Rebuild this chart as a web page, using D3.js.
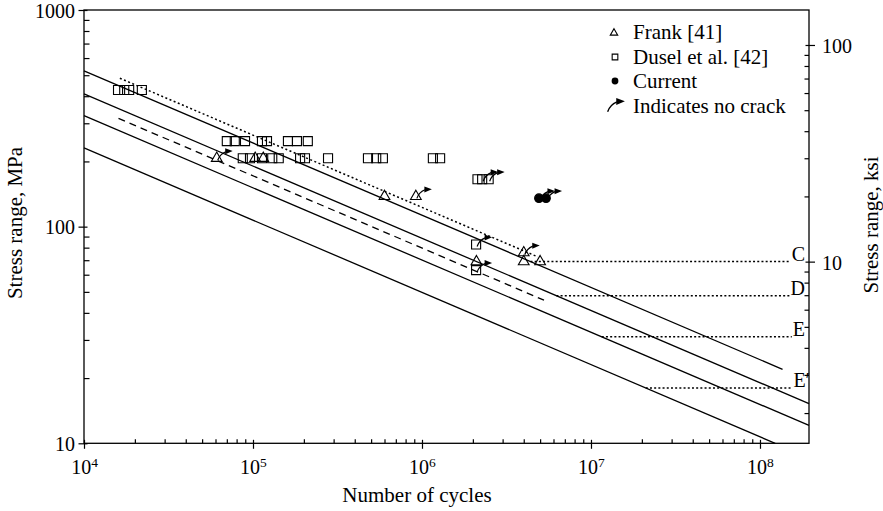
<!DOCTYPE html>
<html><head><meta charset="utf-8">
<script src="https://cdn.jsdelivr.net/npm/d3@7"></script>
<style>
body{margin:0;background:#fff}
svg text{font-family:"Liberation Serif","Times New Roman",serif;fill:#000}
</style>
</head><body>
<svg id="c" width="883" height="511"></svg>
<script>
// ---------------- data ----------------
const frankCycles   = [6.1e4, 1.03e5, 1.15e5, 6.0e5, 9.2e5, 2.1e6, 4.0e6, 4.0e6, 5.0e6];
const frankStress   = [206.8, 206.8, 206.8, 137.9, 137.9, 68.95, 75.8, 68.95, 68.95]; // MPa
const frankNoCrack  = [1, 0, 0, 0, 1, 0, 1, 0, 0];

const duselCycles = [
  1.59e4, 1.73e4, 1.85e4, 2.2e4,
  7.0e4, 7.8e4, 8.97e4, 1.13e5, 1.21e5, 1.61e5, 1.82e5, 2.11e5,
  8.7e4, 9.6e4, 1.13e5, 1.3e5, 1.42e5, 1.9e5, 2.03e5, 2.78e5, 4.79e5, 5.36e5, 5.87e5, 1.16e6, 1.28e6,
  2.13e6, 2.27e6, 2.48e6,
  2.09e6, 2.09e6
];
const duselStress = [
  427.5, 427.5, 427.5, 427.5,
  248.2, 248.2, 248.2, 248.2, 248.2, 248.2, 248.2, 248.2,
  206.8, 206.8, 206.8, 206.8, 206.8, 206.8, 206.8, 206.8, 206.8, 206.8, 206.8, 206.8, 206.8,
  165.5, 165.5, 165.5,
  82.7, 63.0
];
const duselNoCrack = [
  0,0,0,0,
  0,0,0,0,0,0,0,0,
  0,0,0,0,0,0,0,0,0,0,0,0,0,
  0,1,1,
  1,1
];

const currentCycles  = [4.92e6, 5.42e6];
const currentStress  = [135.3, 135.3];
const currentNoCrack = [1, 1];

// AASHTO-type S-N categories: N = A / S^3 (S in MPa)
const categories        = ["C", "D", "E", "E\u2032"];
const categoryConstant  = [1.44e12, 6.9e11, 3.45e11, 1.23e11];
const categoryThreshold = [69, 48, 31, 18];       // MPa (10, 7, 4.5, 2.6 ksi)
const categoryEndCycles = [1.36e8, null, null, null];

const upperConstant = 1.85e12, upperCycles = [1.63e4, 4.85e6];   // dotted line
const meanConstant  = 5.05e11, meanCycles  = [1.6e4, 5.27e6];    // dashed line

const xMajorTicks = [1e4, 1e5, 1e6, 1e7, 1e8];
const yMajorTicks = [10, 100, 1000];
const ksiMajorTicks = [10, 100];
const legendLabels = ["Frank [41]", "Dusel et al. [42]", "Current", "Indicates no crack"];
const MPA_PER_KSI = 6.895;

// ---------------- chart ----------------
const svg = d3.select("#c");
const X0 = 84, X1 = 809, Y0 = 443.3, Y1 = 10;
const xMax = 1.95e8;
const x  = d3.scaleLog().domain([1e4, xMax]).range([X0, X1]);
const y  = d3.scaleLog().domain([10, 1000]).range([Y0, Y1]);
const yk = d3.scaleLog().domain([10 / MPA_PER_KSI, 1000 / MPA_PER_KSI]).range([Y0, Y1]);
const FONT = '"Liberation Serif","Times New Roman",serif';

function minorTicks(scale) {
  const [a, b] = scale.domain(); const out = [];
  for (let e = Math.floor(Math.log10(a)); e <= Math.ceil(Math.log10(b)); e++)
    for (let m = 2; m <= 9; m++) { const v = m * Math.pow(10, e); if (v > a && v < b) out.push(v); }
  return out;
}
function styleAxis(g) {
  g.select(".domain").remove();
  g.attr("font-family", FONT).attr("font-size", 20);
  g.selectAll("line").attr("stroke", "#000").attr("stroke-width", 1.2);
}

// minor ticks (inward)
svg.append("g").attr("transform", `translate(0,${Y0})`)
  .call(d3.axisBottom(x).tickValues(minorTicks(x)).tickSize(-4).tickFormat("")).call(styleAxis);
svg.append("g").attr("transform", `translate(${X0},0)`)
  .call(d3.axisLeft(y).tickValues(minorTicks(y)).tickSize(-5.5).tickFormat("")).call(styleAxis);
svg.append("g").attr("transform", `translate(${X1},0)`)
  .call(d3.axisRight(yk).tickValues(minorTicks(yk)).tickSize(-4.5).tickFormat("")).call(styleAxis);
// major ticks inward part
svg.append("g").attr("transform", `translate(0,${Y0})`)
  .call(d3.axisBottom(x).tickValues(xMajorTicks).tickSize(-3.5).tickFormat("")).call(styleAxis);
svg.append("g").attr("transform", `translate(${X0},0)`)
  .call(d3.axisLeft(y).tickValues(yMajorTicks).tickSize(-3.5).tickFormat("")).call(styleAxis);
svg.append("g").attr("transform", `translate(${X1},0)`)
  .call(d3.axisRight(yk).tickValues(ksiMajorTicks).tickSize(-3.5).tickFormat("")).call(styleAxis);

// major ticks outward with labels
const gx = svg.append("g").attr("transform", `translate(0,${Y0})`)
  .call(d3.axisBottom(x).tickValues(xMajorTicks).tickSize(5.5)).call(styleAxis);
gx.selectAll(".tick text").each(function (d) {
  const t = d3.select(this).text(null).attr("y", 30.7).attr("dy", 0).attr("fill", "#000");
  t.append("tspan").text("10");
  t.append("tspan").attr("dy", -7).attr("font-size", 13.5).text(Math.round(Math.log10(d)));
});
const gy = svg.append("g").attr("transform", `translate(${X0},0)`)
  .call(d3.axisLeft(y).tickValues(yMajorTicks).tickSize(5.5).tickFormat(d3.format("d"))).call(styleAxis);
gy.selectAll(".tick text").attr("x", -9).attr("dy", "0.35em").attr("fill", "#000");
const gk = svg.append("g").attr("transform", `translate(${X1},0)`)
  .call(d3.axisRight(yk).tickValues(ksiMajorTicks).tickSize(6).tickFormat(d3.format("d"))).call(styleAxis);
gk.selectAll(".tick text").attr("x", 13).attr("dy", "0.38em").attr("fill", "#000");

// frame
svg.append("rect").attr("x", X0).attr("y", Y1).attr("width", X1 - X0).attr("height", Y0 - Y1)
  .attr("fill", "none").attr("stroke", "#000").attr("stroke-width", 1.3);

// titles
svg.append("text").attr("x", 417).attr("y", 502).attr("text-anchor", "middle")
  .attr("font-size", 21).text("Number of cycles");
svg.append("text").attr("transform", "translate(22,223) rotate(-90)").attr("text-anchor", "middle")
  .attr("font-size", 21).text("Stress range, MPa");
svg.append("text").attr("transform", "translate(878,225) rotate(-90)").attr("text-anchor", "middle")
  .attr("font-size", 21).text("Stress range, ksi");

// S-N lines
const line = d3.line().x(d => x(d[0])).y(d => y(d[1]));
const sAt = (A, N) => Math.cbrt(A / N);
const plot = svg.append("g");
categories.forEach((c, i) => {
  const A = categoryConstant[i];
  const endN = Math.min(categoryEndCycles[i] || xMax, A / 1000);
  plot.append("path").attr("d", line([[1e4, sAt(A, 1e4)], [endN, sAt(A, endN)]]))
    .attr("fill", "none").attr("stroke", "#000").attr("stroke-width", 1.3);
  // label + threshold
  const ty = y(categoryThreshold[i]);
  const lab = svg.append("text").attr("x", i === 3 ? 810 : 805).attr("y", ty - 1)
    .attr("text-anchor", "end").attr("font-size", 20).text(c);
  const lx = (i === 3 ? 810 : 805) - lab.node().getComputedTextLength() - 1;
  const startN = A / Math.pow(categoryThreshold[i], 3);
  plot.append("line").attr("x1", x(startN)).attr("x2", lx).attr("y1", ty).attr("y2", ty)
    .attr("stroke", "#000").attr("stroke-width", 1.5).attr("stroke-dasharray", "2,2.2");
});
plot.append("path").attr("d", line(upperCycles.map(n => [n, sAt(upperConstant, n)])))
  .attr("fill", "none").attr("stroke", "#000").attr("stroke-width", 1.5).attr("stroke-dasharray", "2,2.5");
plot.append("path").attr("d", line(meanCycles.map(n => [n, sAt(meanConstant, n)])))
  .attr("fill", "none").attr("stroke", "#000").attr("stroke-width", 1.3).attr("stroke-dasharray", "7,5");

// arrows
function arrow(g, cx, cy, s) {
  const a = g.append("g").attr("transform", `translate(${cx},${cy}) scale(${s || 1})`);
  a.append("path").attr("d", "M1,2 Q3,-4 9,-6.6").attr("fill", "none").attr("stroke", "#000").attr("stroke-width", 1.2);
  a.append("path").attr("d", "M8.5,-10 L16,-7.2 L8.5,-4 Z").attr("fill", "#000");
}
const tri = d3.symbol().type(d3.symbolTriangle).size(50);
const sq = d3.symbol().type(d3.symbolSquare).size(82);
const circ = d3.symbol().type(d3.symbolCircle).size(58);
const pts = svg.append("g");
function drawSeries(Ns, Ss, flags, sym, filled) {
  Ns.forEach((n, i) => {
    const cx = x(n), cy = y(Ss[i]);
    pts.append("path").attr("d", sym()).attr("transform", `translate(${cx},${cy})`)
      .attr("fill", filled ? "#000" : "none").attr("stroke", "#000").attr("stroke-width", 1.1);
  });
  Ns.forEach((n, i) => { if (flags[i]) arrow(pts, x(n), y(Ss[i])); });
}
drawSeries(duselCycles, duselStress, duselNoCrack, sq, false);
drawSeries(frankCycles, frankStress, frankNoCrack, tri, false);
drawSeries(currentCycles, currentStress, currentNoCrack, circ, true);

// legend
const leg = svg.append("g");
const legY = [39, 63.5, 88, 112.5];
leg.append("path").attr("d", d3.symbol().type(d3.symbolTriangle).size(24)()).attr("transform", `translate(614,${legY[0] - 6})`)
  .attr("fill", "none").attr("stroke", "#000").attr("stroke-width", 1.1);
leg.append("path").attr("d", d3.symbol().type(d3.symbolSquare).size(32)()).attr("transform", `translate(615,${legY[1] - 6.5})`)
  .attr("fill", "none").attr("stroke", "#000").attr("stroke-width", 1.1);
leg.append("path").attr("d", d3.symbol().type(d3.symbolCircle).size(36)()).attr("transform", `translate(615,${legY[2] - 7})`)
  .attr("fill", "#000");
arrow(leg, 606.5, 109.5, 1.15);
legendLabels.forEach((t, i) => {
  leg.append("text").attr("x", 633).attr("y", legY[i]).attr("font-size", 21).text(t);
});
</script>
</body></html>
